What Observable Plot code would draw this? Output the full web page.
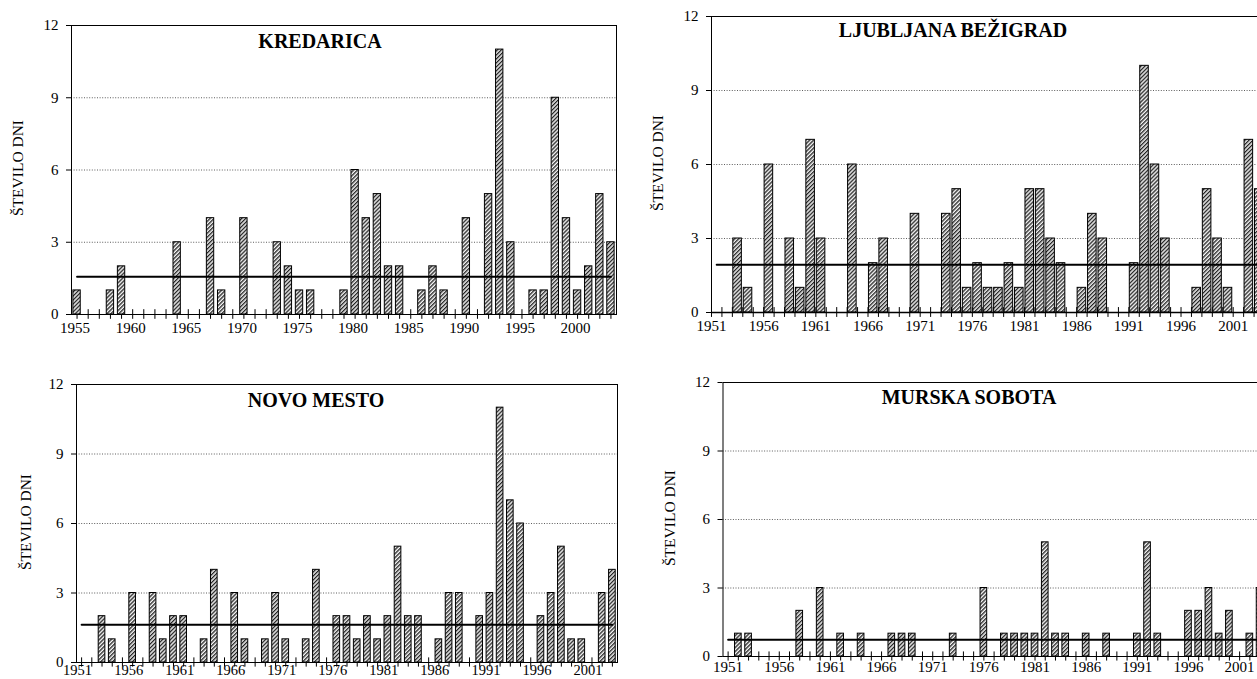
<!DOCTYPE html>
<html><head><meta charset="utf-8">
<script src="https://cdn.jsdelivr.net/npm/d3@7"></script>
<script src="https://cdn.jsdelivr.net/npm/@observablehq/plot@0.6"></script>
<style>
html,body{margin:0;padding:0;width:1257px;height:679px;overflow:hidden;background:#fff;}
#root{position:relative;width:1257px;height:679px;overflow:hidden;font-family:"Liberation Serif","DejaVu Serif",serif;color:#000;}
.panel{position:absolute;overflow:visible;}
.panel svg{max-width:none !important;}
.title{position:absolute;font-weight:bold;font-size:20px;transform:translate(-50%,-50%);white-space:nowrap;line-height:1;font-family:"Liberation Serif","DejaVu Serif",serif;}
.ylab{position:absolute;font-size:15.5px;transform:translate(-50%,-50%) rotate(-90deg);white-space:nowrap;line-height:1;font-family:"Liberation Serif","DejaVu Serif",serif;}
</style></head><body>
<svg width="0" height="0" style="position:absolute"><defs>
<pattern id="hatch" width="2.8" height="2.8" patternUnits="userSpaceOnUse" patternTransform="rotate(45)">
<rect width="2.8" height="2.8" fill="#f4f4f4"/><rect x="0" y="0" width="1.3" height="2.8" fill="#222"/>
</pattern></defs></svg>
<div id="root"></div>
<script>
// ---- data ----
const yAxisTitle = "ŠTEVILO DNI";
const yTicks = [0, 3, 6, 9, 12];
const gridValues = [3, 6, 9];
const refPeriod = [1961, 1990];

const kredaricaTitle = "KREDARICA";
const kredaricaStart = 1955;
const kredaricaValues = [1,0,0,1,2,0,0,0,0,3, 0,0,4,1,0,4,0,0,3,2, 1,1,0,0,1,6,4,5,2,2, 0,1,2,1,0,4,0,5,11,3, 0,1,1,9,4,1,2,5,3];
const kredaricaLabels = [1955,1960,1965,1970,1975,1980,1985,1990,1995,2000];

const ljubljanaTitle = "LJUBLJANA BEŽIGRAD";
const ljubljanaStart = 1951;
const ljubljanaValues = [0,0,3,1,0,6,0,3,1,7, 3,0,0,6,0,2,3,0,0,4, 0,0,4,5,1,2,1,1,2,1, 5,5,3,2,0,1,4,3,0,0, 2,10,6,3,0,0,1,5,3,1, 0,7,5];
const ljubljanaLabels = [1951,1956,1961,1966,1971,1976,1981,1986,1991,1996,2001];

const novoTitle = "NOVO MESTO";
const novoStart = 1951;
const novoValues = [0,0,2,1,0,3,0,3,1,2, 2,0,1,4,0,3,1,0,1,3, 1,0,1,4,0,2,2,1,2,1, 2,5,2,2,0,1,3,3,0,2, 3,11,7,6,0,2,3,5,1,1, 0,3,4];
const novoLabels = [1951,1956,1961,1966,1971,1976,1981,1986,1991,1996,2001];

const murskaTitle = "MURSKA SOBOTA";
const murskaStart = 1951;
const murskaValues = [0,1,1,0,0,0,0,2,0,3, 0,1,0,1,0,0,1,1,1,0, 0,0,1,0,0,3,0,1,1,1, 1,5,1,1,0,1,0,1,0,0, 1,5,1,0,0,2,2,3,1,2, 0,1,3];
const murskaLabels = [1951,1956,1961,1966,1971,1976,1981,1986,1991,1996,2001];

// ---- drawing ----
const root = document.getElementById("root");
const FONT = '"Liberation Serif","DejaVu Serif",serif';

function panel(cfg) {
  const years = d3.range(cfg.start, cfg.start + cfg.values.length);
  const data = years.map((y, i) => ({year: y, value: cfg.values[i]}));
  const mean = d3.mean(data.filter(d => d.year >= refPeriod[0] && d.year <= refPeriod[1]), d => d.value);
  const step = (cfg.width - cfg.ml - cfg.mr) / years.length;
  const tickOff = cfg.between ? -step / 2 : 0;
  const labelOff = cfg.between ? -step / 2 : cfg.labelDx;
  const svg = Plot.plot({
    width: cfg.width, height: cfg.height,
    marginLeft: cfg.ml, marginRight: cfg.mr, marginTop: cfg.mt, marginBottom: cfg.mb,
    style: {fontFamily: FONT, fontSize: "15px", color: "#000", background: "transparent", overflow: "visible", maxWidth: "none"},
    x: {type: "band", domain: years, paddingInner: cfg.pad, paddingOuter: cfg.pad / 2, align: 0.5, round: false},
    y: {domain: [0, 12]},
    marks: [
      Plot.ruleY(gridValues, {stroke: "#333", strokeWidth: 0.8, strokeDasharray: "1,1.6"}),
      Plot.ruleX(years, {x: d => d, y1: -0.2, y2: 0.2, stroke: "#000", strokeWidth: 1, dx: tickOff}),
      Plot.barY(data, {x: "year", y: "value", fill: "url(#hatch)", stroke: "#000", strokeWidth: 1}),
      Plot.ruleY([0], {stroke: "#000", strokeWidth: cfg.baseW}),
      Plot.lineY(data, {x: "year", y: () => mean, stroke: "#000", strokeWidth: 2}),
      Plot.frame({stroke: "#000", strokeWidth: 1}),
      Plot.axisY({ticks: yTicks, tickSize: 5, tickPadding: 8, label: null, fontFamily: FONT}),
      Plot.axisX({ticks: cfg.labels, tickSize: 0, tickPadding: cfg.labelPad, label: null, dx: labelOff,
                  tickFormat: d => String(d), fontFamily: FONT, fontSize: cfg.labelSize})
    ]
  });
  svg.style.maxWidth = "none";
  const wrap = document.createElement("div");
  wrap.className = "panel";
  wrap.style.left = cfg.left + "px";
  wrap.style.top = cfg.top + "px";
  wrap.style.width = cfg.width + "px";
  wrap.style.height = cfg.height + "px";
  wrap.appendChild(svg);
  root.appendChild(wrap);

  const t = document.createElement("div");
  t.className = "title";
  t.textContent = cfg.title;
  t.style.left = cfg.titleX + "px";
  t.style.top = cfg.titleY + "px";
  root.appendChild(t);

  const yl = document.createElement("div");
  yl.className = "ylab";
  yl.textContent = yAxisTitle;
  yl.style.left = cfg.ylabX + "px";
  yl.style.top = cfg.ylabY + "px";
  root.appendChild(yl);
}

panel({title: kredaricaTitle, start: kredaricaStart, values: kredaricaValues, labels: kredaricaLabels,
  left: 0, top: 0, width: 630, height: 345, ml: 71, mr: 14, mt: 25, mb: 31,
  pad: 0.34, between: false, labelDx: -2, labelPad: 8, labelSize: 15, baseW: 1,
  titleX: 320, titleY: 41, ylabX: 18, ylabY: 168});

panel({title: ljubljanaTitle, start: ljubljanaStart, values: ljubljanaValues, labels: ljubljanaLabels,
  left: 640, top: 0, width: 634, height: 345, ml: 71, mr: 10, mt: 16, mb: 33,
  pad: 0.18, between: true, labelDx: 0, labelPad: 8, labelSize: 15, baseW: 1.6,
  titleX: 953, titleY: 30, ylabX: 658, ylabY: 163});

panel({title: novoTitle, start: novoStart, values: novoValues, labels: novoLabels,
  left: 0, top: 330, width: 630, height: 349, ml: 76, mr: 13, mt: 54, mb: 17,
  pad: 0.35, between: false, labelDx: -4, labelPad: 2, labelSize: 14.5, baseW: 1,
  titleX: 316, titleY: 400, ylabX: 26, ylabY: 522});

panel({title: murskaTitle, start: murskaStart, values: murskaValues, labels: murskaLabels,
  left: 640, top: 330, width: 635, height: 349, ml: 82.5, mr: 10.3, mt: 52, mb: 23,
  pad: 0.35, between: false, labelDx: 0, labelPad: 5, labelSize: 15, baseW: 1,
  titleX: 969, titleY: 397, ylabX: 670, ylabY: 518});
</script>
</body></html>
